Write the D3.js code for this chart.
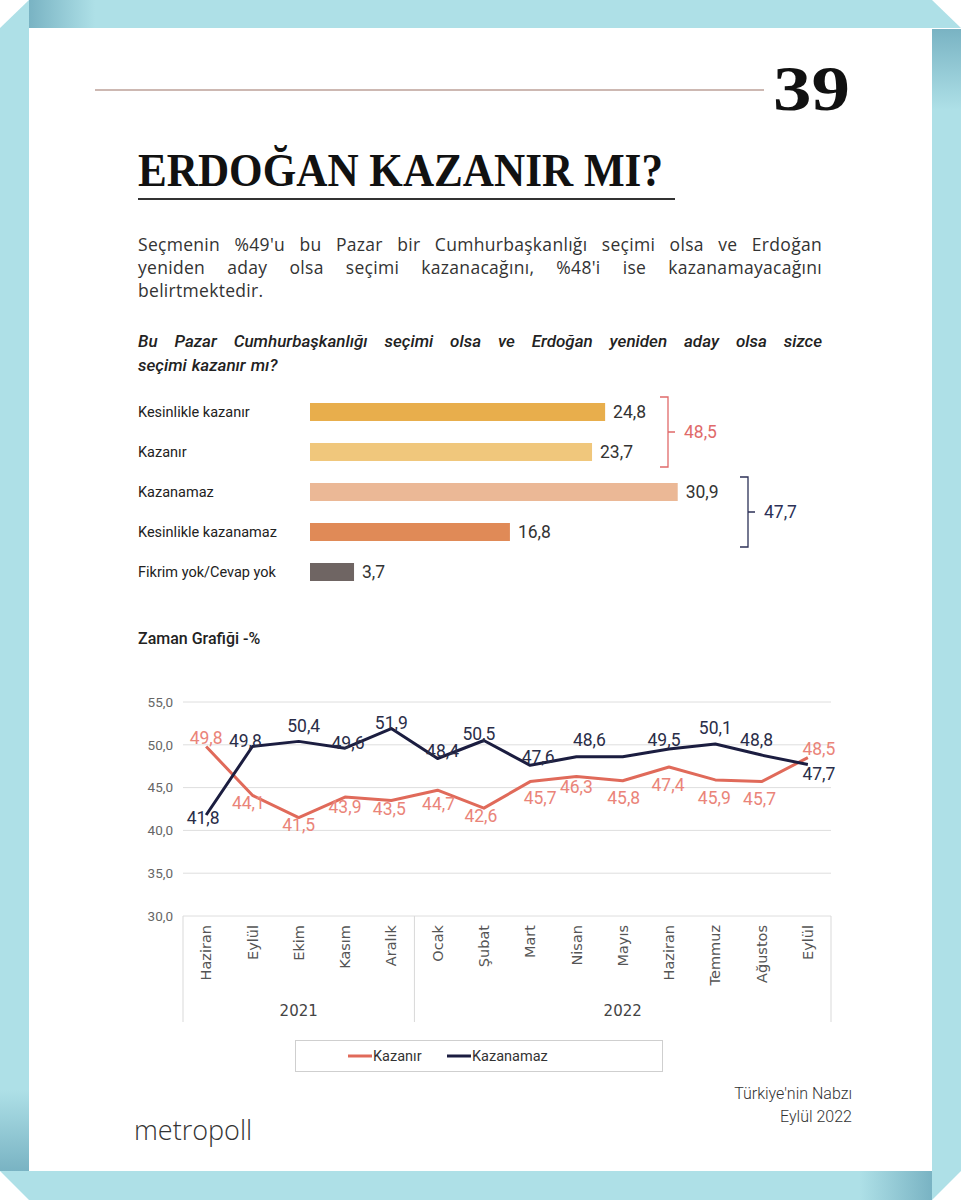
<!DOCTYPE html>
<html><head><meta charset="utf-8">
<script src="https://cdn.jsdelivr.net/npm/d3@7/dist/d3.min.js"></script>
<style>body{margin:0;background:#fff}svg{display:block}</style>
</head><body>
<script>
// ---------- DATA ----------
const barCategories = ["Kesinlikle kazanır","Kazanır","Kazanamaz","Kesinlikle kazanamaz","Fikrim yok/Cevap yok"];
const barValues = [24.8, 23.7, 30.9, 16.8, 3.7];
const groupTotals = [48.5, 47.7];
const months = ["Haziran","Eylül","Ekim","Kasım","Aralık","Ocak","Şubat","Mart","Nisan","Mayıs","Haziran","Temmuz","Ağustos","Eylül"];
const years = ["2021","2022"];
const yearSpans = [5, 9];
const kazanir = [49.8, 44.1, 41.5, 43.9, 43.5, 44.7, 42.6, 45.7, 46.3, 45.8, 47.4, 45.9, 45.7, 48.5];
const kazanamaz = [41.8, 49.8, 50.4, 49.6, 51.9, 48.4, 50.5, 47.6, 48.6, 48.6, 49.5, 50.1, 48.8, 47.7];
const kazanamazShowLabel = [1,1,1,1,1,1,1,1,1,0,1,1,1,1];
const yTicks = [30, 35, 40, 45, 50, 55];
const seriesNames = ["Kazanır", "Kazanamaz"];

// label placement (dx, dy of label centre relative to point)
const redLabelOff = [[0,-9],[-4,7],[0,7],[0,10],[-2,8],[1,14],[-3,8],[10,16],[0,10],[1,17],[-1,18],[-1,18],[-2,17],[11,-9]];
const navyLabelOff = [[-3,3],[-7,-6],[5,-16],[3,-6],[0,-6],[5,-8],[-5,-7],[8,-9],[13,-17],[0,0],[-5,-9],[0,-16],[-5,-15],[11,9]];

const W = 961, H = 1200;
const svg = d3.select("body").append("svg").attr("width", W).attr("height", H);
const defs = svg.append("defs");
function grad(id, x1, y1, x2, y2, stops){
  const g = defs.append("linearGradient").attr("id", id)
    .attr("gradientUnits","userSpaceOnUse").attr("x1",x1).attr("y1",y1).attr("x2",x2).attr("y2",y2);
  stops.forEach(s => g.append("stop").attr("offset", s[0]).attr("stop-color", s[1]));
}
const LB = "#aee0e7", DB = "#79b3c3";
grad("gTop", 29, 0, 95, 0, [[0, DB],[1, LB]]);
grad("gRight", 0, 29, 0, 110, [[0, DB],[1, LB]]);
grad("gLeft", 0, 1090, 0, 1171, [[0, LB],[1, DB]]);
grad("gBottom", 860, 0, 932, 0, [[0, LB],[1, DB]]);

svg.append("rect").attr("width", W).attr("height", H).attr("fill", "#fff");
svg.append("polygon").attr("points","29,0 932,0 961,28 29,28").attr("fill","url(#gTop)");
svg.append("polygon").attr("points","0,28 29,0 29,1171 0,1171").attr("fill","url(#gLeft)");
svg.append("polygon").attr("points","932,29 961,29 961,1171 932,1200").attr("fill","url(#gRight)");
svg.append("polygon").attr("points","0,1171 932,1171 932,1200 29,1200").attr("fill","url(#gBottom)");

// ---------- HEADER ----------
svg.append("line").attr("x1",95).attr("x2",764).attr("y1",90).attr("y2",90)
  .attr("stroke","#cdb8b2").attr("stroke-width",2);
svg.append("text").attr("x",773).attr("y",110).text("39")
  .attr("font-family","'Liberation Serif', 'DejaVu Serif', serif").attr("font-weight","bold")
  .attr("font-size",64).attr("fill","#111").attr("textLength",77).attr("lengthAdjust","spacingAndGlyphs");
svg.append("text").attr("x",138).attr("y",186).text("ERDOĞAN KAZANIR MI?")
  .attr("font-family","'Liberation Serif', 'DejaVu Serif', serif").attr("font-weight","bold")
  .attr("font-size",47).attr("fill","#111").attr("textLength",525).attr("lengthAdjust","spacingAndGlyphs");
svg.append("line").attr("x1",138).attr("x2",675).attr("y1",199).attr("y2",199)
  .attr("stroke","#333").attr("stroke-width",2);

function justify(words, x0, x1, y, attrs, doJustify){
  const g = svg.append("g");
  const nodes = words.map(w => {
    const t = g.append("text").text(w).attr("y", y);
    Object.entries(attrs).forEach(([k,v]) => t.attr(k, v));
    return t;
  });
  const widths = nodes.map(n => n.node().getComputedTextLength());
  const total = d3.sum(widths);
  let gap = doJustify ? (x1 - x0 - total) / (words.length - 1) : 5;
  let x = x0;
  nodes.forEach((n,i) => { n.attr("x", x); x += widths[i] + gap; });
}
const pAttrs = {"font-family":"'Open Sans', sans-serif","font-size":17.5,"fill":"#333","font-weight":400,"letter-spacing":0.3};
justify("Seçmenin %49'u bu Pazar bir Cumhurbaşkanlığı seçimi olsa ve Erdoğan".split(" "),138,822,251,pAttrs,true);
justify("yeniden aday olsa seçimi kazanacağını, %48'i ise kazanamayacağını".split(" "),138,822,274,pAttrs,true);
justify("belirtmektedir.".split(" "),138,822,297,pAttrs,false);
const qAttrs = {"font-family":"Roboto, sans-serif","font-size":17,"fill":"#222","font-style":"italic","font-weight":500};
justify("Bu Pazar Cumhurbaşkanlığı seçimi olsa ve Erdoğan yeniden aday olsa sizce".split(" "),138,822,347,qAttrs,true);
justify("seçimi kazanır mı?".split(" "),138,822,371,qAttrs,false);

// ---------- BAR CHART ----------
const barColors = ["#e8ae4c","#f0c77c","#ebb896","#e08a57","#6f6563"];
const bx = d3.scaleLinear().domain([0, 35]).range([310, 310 + 35*11.9]);
const by = d3.scaleBand().domain(barCategories).range([392, 592]).paddingInner(0.55).paddingOuter(0.275);
const bars = svg.append("g");
bars.selectAll("rect").data(barValues).join("rect")
  .attr("x", bx(0)).attr("y", (d,i) => by(barCategories[i]))
  .attr("width", d => bx(d) - bx(0)).attr("height", by.bandwidth())
  .attr("fill", (d,i) => barColors[i]);
bars.selectAll("text.cat").data(barCategories).join("text").attr("class","cat")
  .attr("x", 138).attr("y", d => by(d) + by.bandwidth()/2).attr("dy","0.35em")
  .attr("font-family","Roboto, sans-serif").attr("font-size",14.5).attr("fill","#222").text(d => d);
bars.selectAll("text.val").data(barValues).join("text").attr("class","val")
  .attr("x", d => bx(d) + 8).attr("y", (d,i) => by(barCategories[i]) + by.bandwidth()/2).attr("dy","0.36em")
  .attr("font-family","Roboto, sans-serif").attr("font-size",17.5).attr("fill","#333")
  .text(d => d3.format(".1f")(d).replace(".", ","));

function bracket(i0, i1, xb, color, total){
  const y0 = by(barCategories[i0]) - 6, y1 = by(barCategories[i1]) + by.bandwidth() + 6, ym = (y0+y1)/2;
  const g = svg.append("g").attr("stroke", color).attr("stroke-width", 1.3).attr("fill","none");
  g.append("path").attr("d", `M${xb-8},${y0}H${xb}V${y1}H${xb-8}M${xb},${ym}H${xb+7}`);
  svg.append("text").attr("x", xb + 16).attr("y", ym).attr("dy","0.36em")
    .attr("font-family","Roboto, sans-serif").attr("font-size",17.5).attr("fill",color)
    .text(d3.format(".1f")(total).replace(".", ","));
}
bracket(0, 1, 668, "#e06a6a", groupTotals[0]);
bracket(2, 3, 748, "#2c3157", groupTotals[1]);

// ---------- LINE CHART ----------
svg.append("text").attr("x",138).attr("y",644).text("Zaman Grafiği -%")
  .attr("font-family","Roboto, sans-serif").attr("font-size",16).attr("font-weight",500).attr("fill","#222");

const lx = d3.scaleBand().domain(d3.range(months.length)).range([183, 831]);
const cx = i => lx(i) + lx.bandwidth()/2;
const ly = d3.scaleLinear().domain([30, 55]).range([916, 702]);
const fmt = v => d3.format(".1f")(v).replace(".", ",");

const grid = svg.append("g");
grid.selectAll("line").data(yTicks).join("line")
  .attr("x1", 183).attr("x2", 831).attr("y1", d => ly(d)).attr("y2", d => ly(d))
  .attr("stroke", "#dedede").attr("stroke-width", 1);
grid.selectAll("text").data(yTicks).join("text")
  .attr("x", 173).attr("y", d => ly(d)).attr("dy","0.35em").attr("text-anchor","end")
  .attr("font-family","Roboto, sans-serif").attr("font-size",13.5).attr("fill","#666").text(fmt);

// category axis: separators
let acc = 0; const seps = [0];
yearSpans.forEach(s => { acc += s; seps.push(acc); });
svg.append("g").selectAll("line").data(seps).join("line")
  .attr("x1", d => lx.range()[0] + d*lx.step()).attr("x2", d => lx.range()[0] + d*lx.step())
  .attr("y1", 916).attr("y2", 1022).attr("stroke","#d9d9d9");
svg.append("g").selectAll("text").data(months).join("text")
  .attr("transform", (d,i) => `translate(${cx(i)},925) rotate(-90)`)
  .attr("text-anchor","end").attr("dy","0.35em")
  .attr("font-family","'DejaVu Sans', sans-serif").attr("font-size",14.5).attr("fill","#555").text(d => d);
svg.append("g").selectAll("text").data(years).join("text")
  .attr("x", (d,i) => lx.range()[0] + (seps[i] + seps[i+1]) / 2 * lx.step())
  .attr("y", 1011).attr("dy","0.35em").attr("text-anchor","middle")
  .attr("font-family","'DejaVu Sans', sans-serif").attr("font-size",15).attr("fill","#444").text(d => d);

const line = d3.line().x((d,i) => cx(i)).y(d => ly(d));
const redC = "#e06a5a", navyC = "#1b1d40";
svg.append("path").datum(kazanir).attr("d", line).attr("fill","none").attr("stroke",redC).attr("stroke-width",3).attr("stroke-linejoin","round");
svg.append("path").datum(kazanamaz).attr("d", line).attr("fill","none").attr("stroke",navyC).attr("stroke-width",3).attr("stroke-linejoin","round");

const labFont = "Roboto, sans-serif";
svg.append("g").selectAll("text").data(kazanir).join("text")
  .attr("x", (d,i) => cx(i) + redLabelOff[i][0]).attr("y", (d,i) => ly(d) + redLabelOff[i][1])
  .attr("dy","0.36em").attr("text-anchor","middle")
  .attr("font-family",labFont).attr("font-size",17.5).attr("fill","#ea8479").text(fmt);
svg.append("g").selectAll("text").data(kazanamaz.map((v,i)=>({v,i})).filter(d => kazanamazShowLabel[d.i])).join("text")
  .attr("x", d => cx(d.i) + navyLabelOff[d.i][0]).attr("y", d => ly(d.v) + navyLabelOff[d.i][1])
  .attr("dy","0.36em").attr("text-anchor","middle")
  .attr("font-family",labFont).attr("font-size",17.5).attr("fill","#2a2d48").text(d => fmt(d.v));

// legend
const lg = svg.append("g");
lg.append("rect").attr("x",295.5).attr("y",1040.5).attr("width",367).attr("height",31)
  .attr("fill","#fff").attr("stroke","#cfcfcf");
const legX = [348, 447];
[redC, navyC].forEach((c,i) => {
  lg.append("line").attr("x1",legX[i]).attr("x2",legX[i]+24).attr("y1",1056).attr("y2",1056).attr("stroke",c).attr("stroke-width",3);
  lg.append("text").attr("x",legX[i]+25).attr("y",1056).attr("dy","0.35em")
    .attr("font-family","Roboto, sans-serif").attr("font-size",14.5).attr("fill","#333").text(seriesNames[i]);
});

// footer
svg.append("text").attr("x",852).attr("y",1099).attr("text-anchor","end").text("Türkiye'nin Nabzı")
  .attr("font-family","Roboto, sans-serif").attr("font-size",16).attr("font-weight",300).attr("fill","#333");
svg.append("text").attr("x",852).attr("y",1122).attr("text-anchor","end").text("Eylül 2022")
  .attr("font-family","Roboto, sans-serif").attr("font-size",16).attr("font-weight",300).attr("fill","#333");
svg.append("text").attr("x",134).attr("y",1140).text("metropoll")
  .attr("font-family","'Open Sans', sans-serif").attr("font-size",27).attr("font-weight",300).attr("fill","#333");
</script>
</body></html>
